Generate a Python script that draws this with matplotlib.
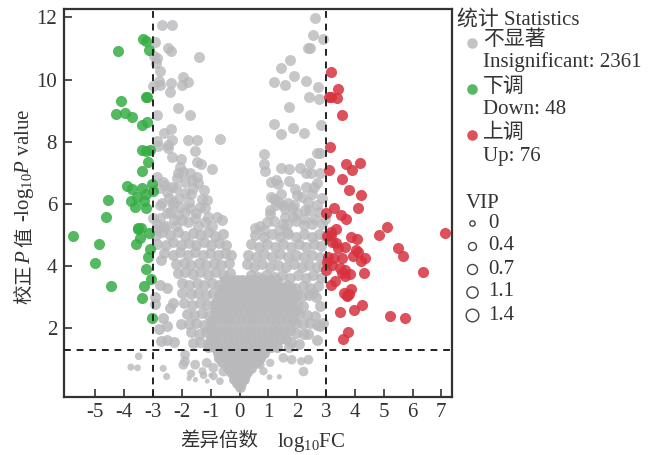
import matplotlib
matplotlib.use("Agg")
import matplotlib.pyplot as plt
from matplotlib.lines import Line2D

# grey points
gray_x = [-2.69,-2.36,-2.93,-2.47,-2.38,-1.40,-2.97,-2.85,-2.90,-2.76,-2.78,-1.95,-1.80,-2.00,-2.38,-2.76,-3.00,-2.43,
          -2.14,-1.72,-2.85,-2.38,-2.63,-2.87,-2.35,-2.82,-2.49,-1.79,-1.49,-0.68,-1.53,-2.47,-2.33,-2.03,-1.46,-1.34,
          -0.95,-2.06,-1.95,-1.72,-1.49,-1.43,-2.85,-2.64,-2.18,-1.89,-2.35,-2.80,-2.53,-1.89,-1.69,-1.14,-1.31,-2.70,
          -2.32,-1.37,-1.72,-1.89,-2.53,-1.08,-0.79,-0.62,-1.55,-2.29,-2.00,-3.00,-2.76,
          2.62,2.56,2.91,2.39,2.45,1.74,1.45,1.89,2.31,1.21,1.59,2.73,2.41,2.76,1.73,1.19,1.85,1.44,2.23,2.82,
          2.79,2.68,0.84,0.84,2.45,0.88,1.43,1.72,2.08,2.30,2.47,2.79,1.08,1.26,1.35,1.70,2.69,1.93,1.44,1.08,
          2.53,2.01,2.16,1.35,2.39,1.67,2.70,1.06,1.06,1.58,1.81,1.99,2.41,2.74,1.58,1.87,2.98,1.64,0.54,0.85,
          1.37,2.22,2.50,1.64]
gray_y = [11.74,11.74,11.2,11.0,10.93,10.73,10.77,10.68,10.52,10.26,9.95,10.07,9.93,9.82,9.89,9.82,9.79,9.6,
          9.07,8.87,8.87,8.42,8.27,8.03,8.05,7.86,7.89,8.05,8.05,8.09,7.71,7.78,7.49,7.45,7.33,7.29,
          7.13,7.19,7.03,6.98,6.87,6.66,6.87,6.71,6.82,6.71,6.55,6.5,6.39,6.36,6.31,6.12,6.14,6.01,
          5.97,5.9,5.85,5.74,5.69,5.58,5.58,5.48,5.53,5.48,5.48,5.53,5.53,
          11.97,11.43,11.32,11.02,11.02,10.63,10.38,10.12,9.94,9.91,9.82,9.76,9.44,9.38,9.12,8.58,8.44,8.26,8.29,8.53,
          7.65,7.62,7.59,7.29,7.32,7.05,7.16,7.12,7.16,6.98,6.98,6.98,6.71,6.76,6.64,6.73,6.66,6.47,6.32,6.23,
          6.33,6.28,6.21,6.07,6.07,6.01,5.96,5.8,5.67,5.82,5.85,5.69,5.8,5.74,5.58,5.58,5.5,5.35,5.21,5.15,
          5.15,5.32,5.35,5.1]

# more of the crowd between y = 5.2 and 7
extra_x = [-2.6,-2.2,-2.1,-1.75,-2.45,-2.05,-1.6,-2.75,-2.4,-2.12,-1.5,-1.2,-2.85,-2.55,-2.2,-1.78,-1.45,-1.2,-0.95,
           -2.3,-2.62,-1.65,-1.25,-2.15,-2.9,
           0.95,1.2,1.5,1.95,2.25,2.6,0.7,1.25,1.9,2.28,2.86,1.2,1.52,2.6,2.85,2.3]
extra_y = [6.6,6.5,6.2,6.05,6.2,5.9,6.5,5.95,5.75,5.65,5.7,5.85,5.35,5.3,5.3,5.4,5.3,5.4,5.3,
           6.05,5.25,6.75,6.45,7.0,5.2,
           5.4,5.45,5.35,5.45,5.5,5.5,5.3,5.95,5.95,5.8,5.35,6.15,5.95,6.55,6.2,6.55]

# left arm of the V, below y = 5.2
left_x = [-2.9,-2.68,-2.4,-2.15,-1.88,-1.62,-1.36,-1.1,-0.84,-0.58,
          -2.85,-2.55,-2.3,-2.02,-1.76,-1.5,-1.24,-0.98,-0.72,-0.46,
          -2.62,-2.3,-2.06,-1.8,-1.54,-1.28,-1.02,-0.76,-0.5,-0.3,
          -2.72,-2.2,-1.94,-1.68,-1.42,-1.16,-0.9,-0.64,-0.38,
          -2.15,-1.88,-1.62,-1.36,-1.1,-0.84,-0.58,-0.32,
          -2.76,-2.5,-2.0,-1.74,-1.48,-1.22,-0.96,-0.7,-0.44,
          -2.93,-2.3,-1.98,-1.7,-1.44,-1.18,-0.92,-0.66,
          -2.93,-2.4,-1.92,-1.64,-1.38,-1.12,-0.86,
          -2.64,-1.84,-1.58,-1.32,-1.06,-0.82,
          -2.78,-2.53,-2.04,-1.74,-1.5,-1.24,-0.98,
          -1.68,-1.42,-1.16,-0.92,
          -2.73,-2.53,-2.27,-1.62,-1.36,-1.1]
left_y = [5.0,5.1,4.98,5.08,4.96,5.06,4.98,5.08,4.96,5.04,
          4.72,4.68,4.76,4.66,4.74,4.66,4.76,4.68,4.74,4.66,
          4.4,4.34,4.44,4.36,4.44,4.34,4.42,4.34,4.42,4.36,
          4.19,4.06,4.1,4.02,4.1,4.02,4.1,4.02,4.08,
          3.78,3.8,3.74,3.8,3.72,3.8,3.72,3.78,
          3.39,3.3,3.46,3.4,3.46,3.38,3.46,3.38,3.46,
          3.0,2.8,3.12,3.08,3.14,3.06,3.14,3.06,
          2.78,2.64,2.8,2.74,2.82,2.74,2.82,
          2.32,2.46,2.42,2.48,2.4,2.48,
          1.98,2.07,2.13,2.13,2.16,2.1,2.16,
          1.86,1.82,1.88,1.8,
          1.59,1.63,1.55,1.52,1.55,1.5]

# right arm of the V
right_x = [0.55,0.85,1.12,1.4,1.68,1.95,2.22,2.5,2.75,2.95,
           0.4,0.68,0.95,1.22,1.5,1.78,2.05,2.32,2.6,2.84,
           0.3,0.58,0.85,1.12,1.4,1.68,1.95,2.22,2.5,2.79,
           0.25,0.5,0.78,1.05,1.32,1.6,1.88,2.15,2.42,2.68,2.9,
           0.38,0.65,0.92,1.2,1.48,1.75,2.02,2.3,2.56,2.82,
           0.55,0.82,1.1,1.38,1.65,1.92,2.2,2.46,2.72,
           1.98,2.16,2.4,2.65,
           2.0,2.2,2.54,2.79,
           2.05,2.33,2.62,2.89,2.8,
           1.95,2.2,2.45,2.7,
           1.95,2.22,2.39,2.7,
           1.8,2.05,1.7]
right_y = [5.0,4.92,5.04,4.94,5.04,4.92,5.04,4.94,5.02,4.96,
           4.7,4.62,4.72,4.62,4.7,4.62,4.72,4.62,4.7,4.64,
           4.35,4.28,4.38,4.3,4.38,4.28,4.36,4.28,4.36,4.3,
           4.05,3.98,4.05,3.95,4.02,3.95,4.05,3.95,4.02,3.95,4.0,
           3.72,3.64,3.72,3.64,3.7,3.62,3.7,3.62,3.7,3.6,
           3.38,3.34,3.4,3.32,3.38,3.3,3.36,3.3,3.34,
           3.05,3.02,3.05,3.0,
           2.75,2.72,3.12,2.7,
           2.45,2.42,2.4,2.16,2.05,
           2.15,2.12,2.15,2.1,
           1.85,1.82,1.8,1.6,
           1.55,1.5,1.4]

# dense middle of the V
core_x = [-0.5,-0.3,-0.1,0.1,0.3,0.5,0.7,0.9,1.1,1.3,
          -0.62,-0.42,-0.22,-0.02,0.18,0.38,0.58,0.78,0.98,1.18,1.38,1.58,1.78,
          -0.7,-0.5,-0.3,-0.1,0.1,0.3,0.5,0.7,0.9,1.1,1.3,1.5,1.7,1.9,
          -0.78,-0.58,-0.38,-0.18,0.02,0.22,0.42,0.62,0.82,1.02,1.22,1.42,1.62,1.82,
          -0.85,-0.65,-0.45,-0.25,-0.05,0.15,0.35,0.55,0.75,0.95,1.15,1.35,1.55,1.75,1.95,
          -0.95,-0.75,-0.55,-0.35,-0.15,0.05,0.25,0.45,0.65,0.85,1.05,1.25,1.45,1.65,1.85,
          -1.05,-0.85,-0.65,-0.45,-0.25,-0.05,0.15,0.35,0.55,0.75,0.95,1.15,1.35,1.55,1.75,
          -1.0,-0.8,-0.6,-0.4,-0.2,0.0,0.2,0.4,0.6,0.8,1.0,1.2,1.4,1.6,
          -1.1,-0.9,-0.7,-0.5,-0.3,-0.1,0.1,0.3,0.5,0.7,0.9,1.1,1.3,
          -0.75,-0.55,-0.35,-0.15,0.05,0.25,0.45,0.65,0.85,
          -0.7,-0.5,-0.3,-0.1,0.1,0.3,0.5,0.7,
          -0.6,-0.4,-0.2,0.0,0.2,0.4,0.6,-0.4,-0.2,0.0,0.2,0.4,-0.15,0.05,0.2,
          -0.3,-0.1,0.1,0.25,-0.2,0.0,0.15,-0.08,0.05,0.0]
core_y = [3.55,3.55,3.55,3.55,3.55,3.55,3.55,3.55,3.55,3.55,
          3.3,3.3,3.3,3.3,3.3,3.3,3.3,3.3,3.3,3.3,3.3,3.3,3.3,
          3.05,3.05,3.05,3.05,3.05,3.05,3.05,3.05,3.05,3.05,3.05,3.05,3.05,3.05,
          2.8,2.8,2.8,2.8,2.8,2.8,2.8,2.8,2.8,2.8,2.8,2.8,2.8,2.8,
          2.55,2.55,2.55,2.55,2.55,2.55,2.55,2.55,2.55,2.55,2.55,2.55,2.55,2.55,2.55,
          2.25,2.25,2.25,2.25,2.25,2.25,2.25,2.25,2.25,2.25,2.25,2.25,2.25,2.25,2.25,
          1.95,1.95,1.95,1.95,1.95,1.95,1.95,1.95,1.95,1.95,1.95,1.95,1.95,1.95,1.95,
          1.65,1.65,1.65,1.65,1.65,1.65,1.65,1.65,1.65,1.65,1.65,1.65,1.65,1.65,
          1.4,1.4,1.4,1.4,1.4,1.4,1.4,1.4,1.4,1.4,1.4,1.4,1.4,
          1.2,1.2,1.2,1.2,1.2,1.2,1.2,1.2,1.2,
          1.05,1.05,1.05,1.05,1.05,1.05,1.05,1.05,
          0.9,0.9,0.9,0.9,0.9,0.9,0.9,0.7,0.7,0.7,0.7,0.7,0.5,0.5,0.5,
          0.6,0.6,0.6,0.6,0.35,0.35,0.35,0.22,0.22,0.1]

# smaller grey points under the threshold
low_x = [-3.5,-3.77,-3.54,-2.65,-2.53,-1.68,-1.75,-1.53,-1.29,-1.25,-1.12,-1.0,-0.9,-1.89,-1.89,-1.95,-1.54,-1.14,
         -0.91,-0.68,-0.56,1.81,1.52,2.39,2.14,2.22,1.38,1.04,0.83,0.71,1.06]
low_y = [1.09,0.74,0.72,0.7,0.44,0.53,0.38,0.34,0.61,0.48,0.29,0.48,0.45,1.14,0.93,0.82,0.82,0.88,
         0.72,0.29,0.6,0.98,1.04,0.98,0.93,0.6,0.43,0.42,0.61,0.82,0.88]
low_s = [30,26,24,26,26,34,14,14,34,30,12,12,34,50,50,50,50,50,
         50,30,50,48,48,48,36,48,14,18,36,44,36]

green_x = [-4.21,-3.34,-3.24,-3.14,-3.25,-3.21,-4.1,-4.29,-3.96,-3.72,-3.4,-3.21,-3.39,-3.25,-3.1,-3.18,-3.39,
           -3.91,-3.72,-3.37,-3.03,-3.57,-3.25,-3.0,-3.76,-3.32,-3.62,-3.23,-4.58,-4.64,-3.51,-3.43,
           -5.77,-4.88,-5.02,-4.45,-3.51,-3.14,-3.45,-3.6,-3.12,-3.18,-3.23,-3.07,-3.3,-3.37,-3.02]
green_y = [10.92,11.3,11.25,10.95,9.44,9.44,9.3,8.88,8.91,8.78,8.53,8.63,7.74,7.71,7.73,7.35,7.05,
           6.56,6.47,6.52,6.65,6.23,6.31,6.41,6.1,6.09,5.91,5.86,6.13,5.56,5.23,5.23,
           4.96,4.72,4.09,3.36,5.19,5.06,4.89,4.72,4.53,4.3,3.91,3.59,3.34,2.96,2.32]

red_x = [3.16,3.43,3.12,3.16,3.38,3.56,3.15,3.7,4.17,3.12,3.9,3.57,3.78,4.22,4.1,3.29,3.0,3.53,3.7,5.13,3.35,3.16,7.12,
         4.84,3.03,3.16,3.2,3.86,4.08,3.34,3.66,3.43,5.49,5.66,4.05,4.12,3.92,4.36,4.2,3.08,3.26,3.55,3.05,3.2,
         3.49,3.66,3.55,3.84,3.66,4.32,3.0,6.36,3.31,3.16,3.86,3.63,3.74,3.8,3.72,4.24,3.97,3.49,5.23,5.73,3.75,3.59]
red_y = [10.23,9.71,9.45,9.44,9.39,8.87,7.84,7.28,7.3,7.08,7.08,6.8,6.44,6.28,5.87,5.88,5.69,5.64,5.51,5.26,5.18,5.1,5.05,
         4.99,4.97,4.99,4.78,4.93,4.88,4.73,4.6,4.59,4.59,4.33,4.51,4.44,4.33,4.25,4.16,4.3,4.25,4.25,4.14,4.03,
         3.93,3.87,3.76,3.74,3.66,3.78,3.87,3.8,3.52,3.39,3.26,3.12,3.07,3.09,3.03,2.74,2.58,2.52,2.39,2.31,1.88,1.65]

x_ticks = [-5,-4,-3,-2,-1,0,1,2,3,4,5,6,7]
y_ticks = [2,4,6,8,10,12]
stat_labels = ["不显著", "Insignificant: 2361", "下调", "Down: 48", "上调", "Up: 76"]
vip_labels = ["0", "0.4", "0.7", "1.1", "1.4"]
vip_sizes = [5.3, 8, 10, 11.3, 12.7]

W, H = 656, 455
plt.rcParams['font.family'] = ['Liberation Serif', 'Noto Sans CJK SC']
plt.rcParams['mathtext.fontset'] = 'custom'
plt.rcParams['mathtext.rm'] = 'Liberation Serif'
plt.rcParams['mathtext.it'] = 'Liberation Serif:italic'
plt.rcParams['axes.unicode_minus'] = False
FS = 15
INK = '#333333'
GRAY = '#b9b9bc'
GREEN = '#36ad45'
RED = '#d8323f'

fig = plt.figure(figsize=(W/100, H/100), dpi=100)
ax = fig.add_axes([64/W, 1-397/H, (452-64)/W, (397-9)/H])

ax.scatter(core_x, core_y, s=62, c=GRAY, alpha=0.95, linewidths=0, zorder=2)
ax.scatter(left_x + right_x, left_y + right_y, s=62, c=GRAY, alpha=0.85, linewidths=0, zorder=2)
ax.scatter(gray_x + extra_x, gray_y + extra_y, s=62, c=GRAY, alpha=0.8, linewidths=0, zorder=2)
ax.scatter(low_x, low_y, s=low_s, c=GRAY, alpha=0.8, linewidths=0, zorder=2)
ax.scatter(green_x, green_y, s=64, c=GREEN, alpha=0.85, linewidths=0, zorder=3)
ax.scatter(red_x, red_y, s=64, c=RED, alpha=0.85, linewidths=0, zorder=3)

ax.axhline(1.3, color='#222222', lw=1.4, ls=(0, (3.5, 3)), zorder=4)
ax.axvline(-3, color='#222222', lw=1.4, ls=(0, (3.5, 3)), zorder=4)
ax.axvline(3, color='#222222', lw=1.4, ls=(0, (3.5, 3)), zorder=4)

ax.set_xlim(-6.09, 7.37)
ax.set_ylim(-0.22, 12.27)
ax.set_xticks(x_ticks)
ax.set_yticks(y_ticks)
ax.tick_params(direction='in', length=5.5, width=1.2, color=INK, labelcolor=INK, labelsize=FS, pad=4)
ax.tick_params(axis='y', pad=5)
for s in ax.spines.values():
    s.set_color(INK)
    s.set_linewidth(1.6)


def put(px, py, s, **kw):
    kw.setdefault('fontsize', FS)
    kw.setdefault('color', INK)
    kw.setdefault('va', 'center')
    return fig.text(px/W, 1-py/H, s, **kw)


# axis titles are built from pieces, mathtext has no CJK glyphs
put(180, 441, "差异倍数", ha='left', fontsize=14)
put(277, 442, r"log$_{10}$FC", ha='left')
put(25, 304, "校", rotation=90, ha='center', va='bottom', fontsize=14)
put(25, 284, "正", rotation=90, ha='center', va='bottom', fontsize=14)
put(25, 264, r"$\mathit{P}$", rotation=90, ha='center', va='bottom')
put(25, 247, "值", rotation=90, ha='center', va='bottom', fontsize=14)
put(25, 222, r"-log$_{10}\mathit{P}$ value", rotation=90, ha='center', va='bottom')

# legend
put(457, 20, "统计 Statistics")
for y, s in zip([40, 62, 87, 110, 133, 157], stat_labels):
    put(483, y, s)
for y, c in zip([43, 89, 135], [GRAY, GREEN, RED]):
    fig.add_artist(Line2D([472/W], [1-y/H], marker='o', ms=7.6, mfc=c, mec='none', alpha=0.85, ls='none'))

put(466, 203, "VIP")
for y, s, d in zip([223, 246, 269, 292, 315], vip_labels, vip_sizes):
    put(488, y, s)
    fig.add_artist(Line2D([472/W], [1-y/H], marker='o', ms=d*0.72, mfc='white', mec='#444444', mew=1.0, ls='none'))

fig.savefig('out.png', dpi=100)
